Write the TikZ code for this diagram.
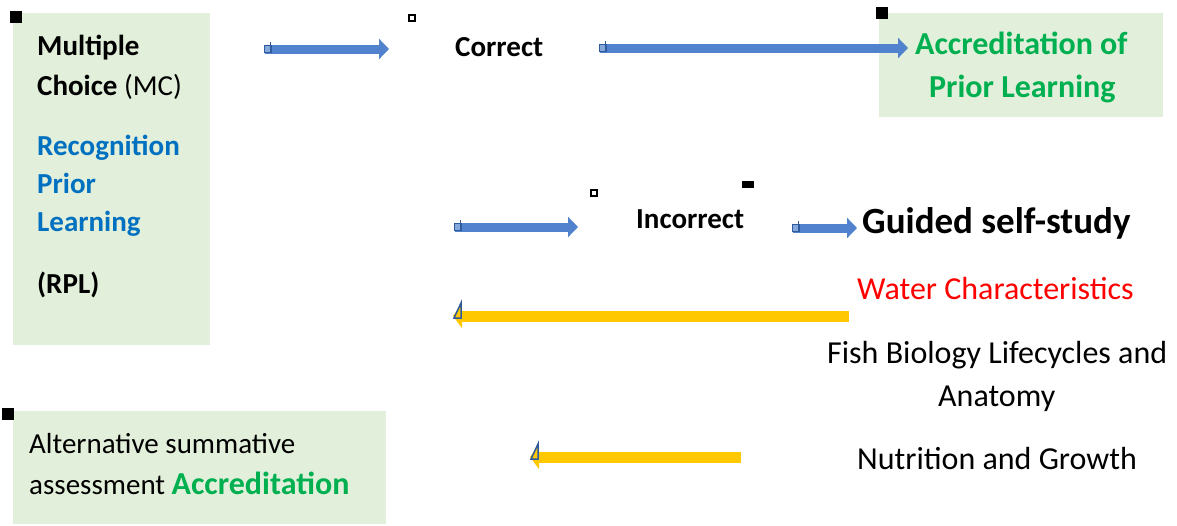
\documentclass[tikz,border=0pt]{standalone}
\usepackage{fontspec}
\setmainfont{Carlito}
\usetikzlibrary{arrows.meta}
\definecolor{boxgreen}{HTML}{E2EFDA}
\definecolor{arrblue}{HTML}{5082CD}
\definecolor{handleblue}{HTML}{2F5A9E}
\definecolor{arryellow}{HTML}{FFC800}
\definecolor{txtblue}{HTML}{0070C0}
\definecolor{txtgreen}{HTML}{00B050}
\definecolor{txtred}{HTML}{FF0000}
\tikzset{
  greenbox/.style={fill=boxgreen, draw=none, anchor=north west, inner sep=0pt},
  txt/.style={anchor=base west, inner sep=0pt, font=\fontsize{29}{35}\selectfont},
  ltxt/.style={anchor=base west, inner sep=0pt, font=\fontsize{32}{38}\selectfont},
  btxt/.style={anchor=base west, inner sep=0pt, font=\fontsize{29}{35}\selectfont\bfseries},
  lbtxt/.style={anchor=base west, inner sep=0pt, font=\fontsize{32}{38}\selectfont\bfseries},
  bluearrow/.style={draw=arrblue, line width=9pt, -{Triangle[width=20pt,length=10pt]}},
  yellowarrow/.style={draw=arryellow, line width=11pt, -{Triangle[width=24pt,length=9pt]}},
  blackmark/.style={fill=black, draw=none},
  hollowmark/.style={fill=white, draw=black, line width=1.3pt},
  handle/.style={fill=arrblue!70!white, draw=handleblue, line width=1.6pt},
  yhandle/.style={draw=handleblue, line width=1.5pt, fill=arryellow, line join=miter}
}
\begin{document}
\begin{tikzpicture}[x=1pt,y=-1pt]
\useasboundingbox (0,0) rectangle (1177,525);
% boxes
\node[greenbox, minimum width=197pt, minimum height=332pt] (mcbox) at (13,13) {};
\node[greenbox, minimum width=284pt, minimum height=104pt] (aplbox) at (879,13) {};
\node[greenbox, minimum width=373pt, minimum height=113pt] (altbox) at (13,411) {};
% markers
\fill[blackmark] (10,11) rectangle (22,23);
\fill[blackmark] (876,7) rectangle (888,19);
\fill[blackmark] (2,408) rectangle (14,420);
\fill[blackmark] (742,181) rectangle (754,188);
\draw[hollowmark] (409,15) rectangle (415,21);
\draw[hollowmark] (591,190) rectangle (597,196);
% texts
\node[btxt] (t1) at (37,55) {Multiple};
\node[btxt] (t2) at (37,95) {Choice \mdseries(MC)};
\node[btxt, text=txtblue] (t3) at (37,155) {Recognition};
\node[btxt, text=txtblue] (t4) at (37,193) {Prior};
\node[btxt, text=txtblue] (t5) at (37,231) {Learning};
\node[btxt] (t6) at (37,293) {(RPL)};
\node[btxt] (correct) at (455,56) {Correct};
\node[lbtxt, text=txtgreen] (apl1) at (915,54) {Accreditation of};
\node[lbtxt, text=txtgreen] (apl2) at (929,97) {Prior Learning};
\node[btxt] (incorrect) at (636,228) {Incorrect};
\node[anchor=base west, inner sep=0pt, font=\fontsize{37}{44}\selectfont\bfseries] (guided) at (862,233) {Guided self-study};
\node[ltxt, text=txtred] (water) at (857,299) {Water Characteristics};
\node[ltxt] (fish1) at (827,363) {Fish Biology Lifecycles and};
\node[ltxt] (fish2) at (938,406) {Anatomy};
\node[ltxt] (nutr) at (857,469) {Nutrition and Growth};
\node[txt] (alt1) at (29,453) {Alternative summative};
\node[txt] (alt2) at (29,494) {assessment \fontsize{32}{38}\selectfont\bfseries\color{txtgreen}Accreditation};
% arrow end points
\coordinate (a1s) at (265,49);  \coordinate (a1e) at (389,49);
\coordinate (a2s) at (600,48);  \coordinate (a2e) at (908,48);
\coordinate (a3s) at (455,227); \coordinate (a3e) at (578,227);
\coordinate (a4s) at (793,228); \coordinate (a4e) at (857,228);
\coordinate (y1s) at (849,316); \coordinate (y1e) at (453,316);
\coordinate (y2s) at (741,457); \coordinate (y2e) at (530,457);
% arrows
\draw[bluearrow] (a1s) -- (a1e);
\draw[bluearrow] (a2s) -- (a2e);
\draw[bluearrow] (a3s) -- (a3e);
\draw[bluearrow] (a4s) -- (a4e);
\draw[yellowarrow] (y1s) -- (y1e);
\draw[yellowarrow] (y2s) -- (y2e);
% handles
\foreach \c in {a1s,a2s,a3s,a4s}{
  \draw[handle] ([xshift=-0.5pt,yshift=-3.5pt]\c) rectangle ([xshift=6pt,yshift=3.5pt]\c);
  \draw[handleblue, line width=1.6pt] ([xshift=5.5pt,yshift=3.5pt]\c) -- ([xshift=5.5pt,yshift=7pt]\c);
}
\draw[yhandle] ([xshift=1pt,yshift=-2pt]y1e) -- ([xshift=8pt,yshift=13pt]y1e) -- ([xshift=8pt,yshift=-2pt]y1e) -- cycle;
\draw[yhandle] ([xshift=1pt,yshift=-2pt]y2e) -- ([xshift=8pt,yshift=13pt]y2e) -- ([xshift=8pt,yshift=-2pt]y2e) -- cycle;
\end{tikzpicture}
\end{document}
